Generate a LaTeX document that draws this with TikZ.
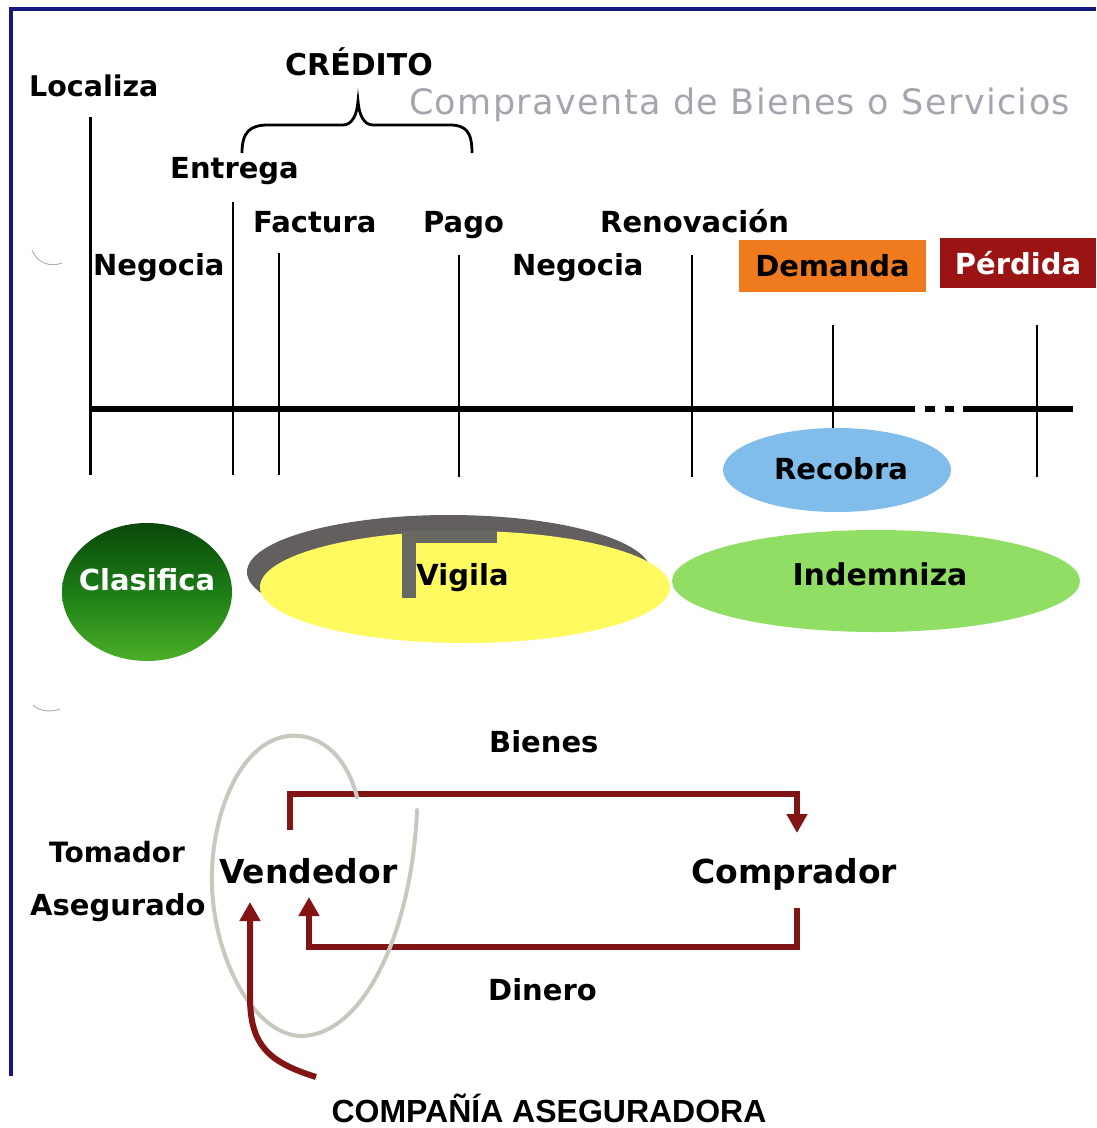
\documentclass[tikz,border=0pt]{standalone}
\usepackage{fontspec}
\setmainfont{DejaVu Sans}
\newfontfamily\arialfont{Liberation Sans}
\newfontfamily\spacedfont{DejaVu Sans}[LetterSpace=4]
\usetikzlibrary{arrows.meta,shapes.geometric}
\definecolor{navy}{RGB}{22,22,128}
\definecolor{cgray}{RGB}{165,165,175}
\definecolor{demorange}{RGB}{240,122,30}
\definecolor{perdred}{RGB}{155,20,20}
\definecolor{brownred}{RGB}{130,20,20}
\definecolor{recblue}{RGB}{128,189,235}
\definecolor{indgreen}{RGB}{145,222,100}
\definecolor{vigyellow}{RGB}{255,250,95}
\definecolor{shadowgray}{RGB}{100,95,95}
\definecolor{fgray}{RGB}{105,105,100}
\definecolor{loopgray}{RGB}{200,200,190}
\definecolor{clasdark}{RGB}{10,72,10}
\definecolor{clasmid}{RGB}{28,125,22}
\definecolor{claslight}{RGB}{75,175,40}
\begin{document}
\begin{tikzpicture}[x=1pt,y=-1pt,
  lbl/.style={inner sep=0pt,anchor=base west,font=\bfseries\fontsize{29}{32}\selectfont},
  biglbl/.style={lbl,font=\bfseries\fontsize{33}{36}\selectfont},
  ctext/.style={inner sep=0pt,font=\bfseries\fontsize{29}{32}\selectfont},
  tick/.style={line width=2.5pt,black},
  tline/.style={line width=6pt,black},
  flow/.style={line width=6pt,brownred,-{Triangle[width=20pt,length=19pt]}},
]
\useasboundingbox (0,0) rectangle (1096,1128);
% frame
\draw[navy,line width=4pt] (11,1076) -- (11,9) -- (1096,9);
% small marks
\draw[gray!60,line width=1pt] (32,250) .. controls (36,262) and (50,268) .. (62,263);
\draw[gray!60,line width=1pt] (33,705) .. controls (40,712) and (52,712) .. (60,709);

% top labels
\node[lbl,font=\bfseries\fontsize{28.5}{30}\selectfont] (localiza) at (29,96) {Localiza};
\node[lbl,font=\bfseries\fontsize{30}{32}\selectfont] (credito) at (285,75) {CRÉDITO};
\node[inner sep=0pt,anchor=base west,font=\spacedfont\fontsize{35}{37}\selectfont,text=cgray] (compra) at (409,114) {Compraventa de Bienes o Servicios};
\node[lbl] (entrega) at (170,178) {Entrega};
\node[lbl] (factura) at (253,232) {Factura};
\node[lbl] (pago) at (423,232) {Pago};
\node[lbl] (renov) at (600,232) {Renovación};
\node[lbl] (neg1) at (93,275) {Negocia};
\node[lbl] (neg2) at (512,275) {Negocia};
\node[ctext,fill=demorange,minimum width=187pt,minimum height=52pt] (demanda) at (832.5,266) {Demanda};
\node[ctext,fill=perdred,text=white,minimum width=156pt,minimum height=50pt] (perdida) at (1018,263) {Pérdida};

% brace
\draw[line width=2.8pt] (242,153) .. controls (242,132) and (250,125) .. (268,125) -- (343,125)
  .. controls (352,125) and (357,115) .. (358,101) .. controls (359,115) and (364,125) .. (373,125)
  -- (450,125) .. controls (466,125) and (472,132) .. (472,153);

% timeline ticks
\draw[tick,line width=3pt] (90,117) -- (90,475);
\draw[tick,line width=2pt] (233,202) -- (233,475);
\draw[tick,line width=2pt] (279,253) -- (279,475);
\draw[tick] (459,255) -- (459,477);
\draw[tick] (692,255) -- (692,477);
\draw[tick] (833,325) -- (833,440);
\draw[tick] (1037,325) -- (1037,477);
% timeline
\draw[tline] (89,409) -- (915,409);
\draw[tline] (925,409) -- (935,409);
\draw[tline] (945,409) -- (954,409);
\draw[tline] (963,409) -- (1073,409);

% ellipses
\fill[recblue] (837,470) ellipse [x radius=114, y radius=42];
\node[ctext] (recobra) at (841,469) {Recobra};
\fill[indgreen] (876,581) ellipse [x radius=204, y radius=51];
\node[ctext,font=\bfseries\fontsize{30}{32}\selectfont] (indemniza) at (880,574) {Indemniza};
\fill[shadowgray] (449,572) ellipse [x radius=202, y radius=57];
\fill[vigyellow] (465,587) ellipse [x radius=205, y radius=56];
\fill[fgray] (402,531) rectangle (416,598);
\fill[fgray] (402,531) rectangle (497,543);
\node[ctext] (vigila) at (462.5,578) {Vigila};
\shade[top color=clasdark,bottom color=claslight,middle color=clasmid] (147,592) ellipse [x radius=85, y radius=69];
\node[ctext,text=white] (clasifica) at (147,580) {Clasifica};

% bottom part
\node[lbl,font=\bfseries\fontsize{28}{30}\selectfont] (tomador) at (49,862) {Tomador};
\node[lbl] (asegurado) at (30,915) {Asegurado};
\node[biglbl] (vendedor) at (219,883) {Vendedor};
\node[biglbl] (comprador) at (691,883) {Comprador};
\node[lbl] (bienes) at (489,752) {Bienes};
\node[lbl] (dinero) at (488,1000) {Dinero};
\node[inner sep=0pt,anchor=base,font=\arialfont\bfseries\fontsize{32}{34}\selectfont] (compania) at (549,1122) {COMPAÑÍA ASEGURADORA};

\coordinate (bstart) at (290,830);
\coordinate (bend) at (797,833);
\coordinate (dstart) at (797,908);
\coordinate (dend) at (309,897);
\coordinate (cstart) at (316,1077);
\coordinate (cend) at (250,902);
\draw[flow] (bstart) -- (290,794) -- (797,794) -- (bend);
\draw[flow] (dstart) -- (797,947) -- (309,947) -- (dend);
% loop around Vendedor
\draw[loopgray,line width=4pt,line cap=round] (357,797) .. controls (345,750) and (315,733) .. (288,736)
  .. controls (240,742) and (210,815) .. (212,885)
  .. controls (214,960) and (255,1036) .. (302,1036)
  .. controls (365,1034) and (412,930) .. (417,810);
\draw[flow] (cstart) .. controls (268,1062) and (251,1045) .. (250,1000) -- (cend);
\end{tikzpicture}
\end{document}
